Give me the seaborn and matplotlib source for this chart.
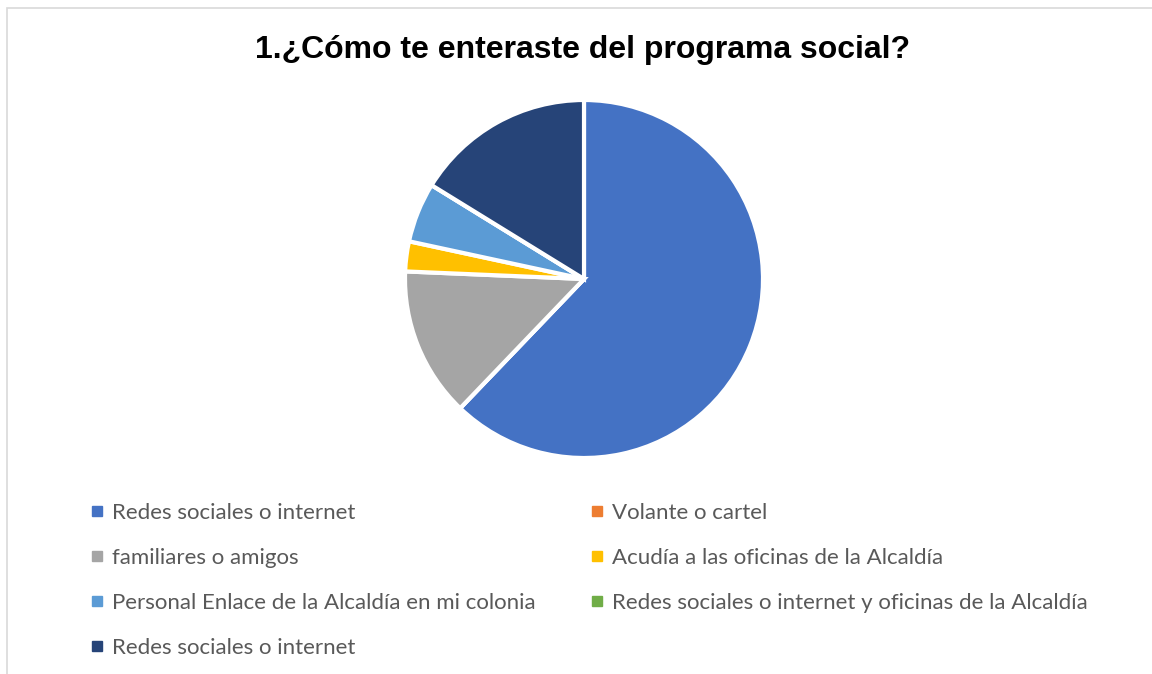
import matplotlib.pyplot as plt
import seaborn as sns
from matplotlib.lines import Line2D
from matplotlib.patches import Rectangle

sns.set_style("white")
plt.rcParams["font.family"] = ["Lato", "DejaVu Sans"]

# Datos de la encuesta (número de respuestas)
categorias = [
    "Redes sociales o internet",
    "Volante o cartel",
    "familiares o amigos",
    "Acudía a las oficinas de la Alcaldía",
    "Personal Enlace de la Alcaldía en mi colonia",
    "Redes sociales o internet y oficinas de la Alcaldía",
    "Redes sociales o internet",
]
respuestas = [23, 0, 5, 1, 2, 0, 6]
colores = ["#4472C4", "#ED7D31", "#A5A5A5", "#FFC000", "#5B9BD5", "#70AD47", "#264478"]

W, H = 1152, 674
fig = plt.figure(figsize=(W / 100, H / 100), dpi=100)

# marco del gráfico
fig.patches.append(
    Rectangle((7 / W, -0.05), 1.1, 1 - 8 / H + 0.05, transform=fig.transFigure,
              fill=False, edgecolor="#D9D9D9", linewidth=1.2)
)

fig.text(583 / W, 1 - 50 / H, "1.¿Cómo te enteraste del programa social?",
         ha="center", va="center", fontsize=23, fontweight="bold",
         family=["Liberation Sans", "DejaVu Sans"], color="black")

# pastel
cx, cy, r = 584, 279, 179
ax = fig.add_axes([(cx - r) / W, (H - cy - r) / H, 2 * r / W, 2 * r / H])
ax.pie(respuestas, colors=colores, startangle=90, counterclock=False,
       wedgeprops={"edgecolor": "white", "linewidth": 3})
ax.set_xlim(-1, 1)
ax.set_ylim(-1, 1)
ax.axis("off")

# leyenda en dos columnas, orden por filas
handles = [Line2D([], [], marker="s", linestyle="", markersize=6.5,
                  markerfacecolor=c, markeredgecolor=c) for c in colores]
estilo = dict(frameon=False, fontsize=16, labelcolor="#595959",
              handlelength=0.6, handletextpad=0.38, labelspacing=1.12,
              borderpad=0, borderaxespad=0, loc="upper left")
izq = [0, 2, 4, 6]
der = [1, 3, 5]
leg1 = fig.legend([handles[i] for i in izq], [categorias[i] for i in izq],
                  bbox_to_anchor=(90 / W, 1 - 503 / H), **estilo)
leg2 = fig.legend([handles[i] for i in der], [categorias[i] for i in der],
                  bbox_to_anchor=(590 / W, 1 - 503 / H), **estilo)

fig.savefig("out.png", dpi=100)
